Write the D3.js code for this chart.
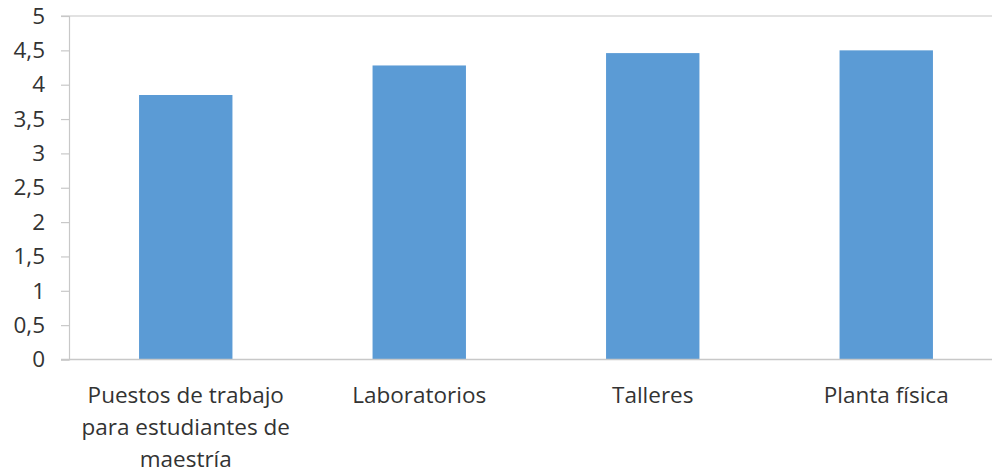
<!DOCTYPE html>
<html>
<head>
<meta charset="utf-8">
<script src="https://cdn.jsdelivr.net/npm/d3@7"></script>
<style>
  html, body { margin: 0; padding: 0; background: #fff; }
  svg { display: block; }
  text { font-family: "Open Sans", Lato, sans-serif; fill: #333; }
</style>
</head>
<body>
<svg id="chart" width="992" height="474"></svg>
<script>
// Valoración promedio por aspecto de la infraestructura
const categories = ["Puestos de trabajo para estudiantes de maestría", "Laboratorios", "Talleres", "Planta física"];
const values = [3.85, 4.28, 4.46, 4.5];
const yTicks = [0, 0.5, 1, 1.5, 2, 2.5, 3, 3.5, 4, 4.5, 5];

const svg = d3.select("#chart");
const plotLeft = 69, plotTop = 16, plotBottom = 359.5, step = 233.5;

const x = d3.scaleBand()
  .domain(categories)
  .range([plotLeft, plotLeft + step * categories.length])
  .paddingInner(0.6)
  .paddingOuter(0.3);

const y = d3.scaleLinear().domain([0, 5]).range([plotBottom, plotTop]);

const fmt = v => String(v).replace(".", ",");
const axisColor = "#c8c8c8";

// top boundary line at the maximum of the scale
svg.append("line")
  .attr("x1", plotLeft - 8).attr("x2", 992)
  .attr("y1", y(5)).attr("y2", y(5))
  .attr("stroke", "#d9d9d9").attr("stroke-width", 1.5);

// bars
svg.append("g").selectAll("rect")
  .data(categories)
  .join("rect")
  .attr("x", d => x(d))
  .attr("width", x.bandwidth())
  .attr("y", (d, i) => y(values[i]))
  .attr("height", (d, i) => y(0) - y(values[i]))
  .attr("fill", "#5b9bd5");

// y axis
const yAxis = svg.append("g")
  .attr("transform", `translate(${plotLeft},0)`)
  .call(d3.axisLeft(y).tickValues(yTicks).tickFormat(fmt).tickSize(8).tickPadding(16));
yAxis.select(".domain").attr("stroke", axisColor).attr("stroke-width", 1.2);
yAxis.selectAll(".tick line").attr("stroke", axisColor).attr("stroke-width", 1.2);
yAxis.selectAll(".tick text")
  .style("font-family", "'Open Sans', sans-serif")
  .style("font-size", "22.5px").attr("fill", "#333");

// baseline
svg.append("line")
  .attr("x1", plotLeft - 8).attr("x2", 992)
  .attr("y1", y(0)).attr("y2", y(0))
  .attr("stroke", axisColor).attr("stroke-width", 1.5);

// category labels, wrapped
const maxWidth = 236;
const labels = svg.append("g").selectAll("text")
  .data(categories)
  .join("text")
  .attr("text-anchor", "middle")
  .style("font-size", "22.5px")
  .attr("x", d => x(d) + x.bandwidth() / 2)
  .attr("y", 403);

labels.each(function(d) {
  const t = d3.select(this);
  const words = d.split(" ");
  let lines = [], line = [];
  const probe = t.append("tspan");
  words.forEach(w => {
    const test = line.concat(w).join(" ");
    probe.text(test);
    if (probe.node().getComputedTextLength() > maxWidth && line.length) {
      lines.push(line.join(" "));
      line = [w];
    } else {
      line.push(w);
    }
  });
  lines.push(line.join(" "));
  probe.remove();
  lines.forEach((l, i) => {
    t.append("tspan")
      .attr("x", x(d) + x.bandwidth() / 2)
      .attr("dy", i === 0 ? 0 : 32)
      .text(l);
  });
});
</script>
</body>
</html>
